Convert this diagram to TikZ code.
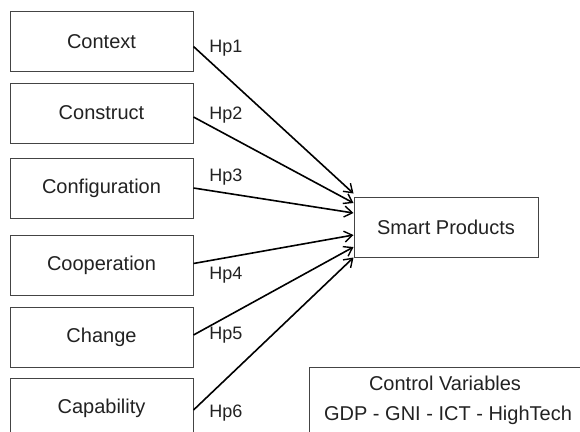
\documentclass[tikz,border=0pt]{standalone}
\usepackage{fontspec}
\setmainfont{Liberation Sans}
\usetikzlibrary{arrows.meta}
\definecolor{ink}{HTML}{222222}
\definecolor{frame}{HTML}{444444}
\tikzset{
  factor/.style={draw=frame,line width=1pt,minimum width=183pt,minimum height=60pt,text=ink,font=\fontsize{20}{24}\selectfont},
  hyp/.style={text=ink,font=\fontsize{18}{22}\selectfont},
  link/.style={draw=black,line width=1.6pt,-{Straight Barb[length=8pt,width=11pt,line width=1.4pt]}}
}

\begin{document}
\begin{tikzpicture}[x=1pt,y=-1pt]
            \useasboundingbox (0,0) rectangle (580,431);
            \clip (0,0) rectangle (580,431);
            \fill[white] (0,0) rectangle (580,431);
            \node (ctx) at (101.5,41.5) [factor] {Context};
            \node (cst) at (101.5,113) [factor] {Construct};
            \node (cfg) at (101.5,188) [factor] {Configuration};
            \node (cop) at (101.5,265.5) [factor] {Cooperation};
            \node (chg) at (101.5,337) [factor] {Change};
            \node (cap) at (101.5,408) [factor] {Capability};
            \node (sp) at (446,227) [factor,minimum width=184pt] {Smart Products};
            \node (cv) at (449.5,406) [factor,minimum width=281pt,minimum height=78pt] {};
            \node (cvt) at (445,383) [text=ink,font=\fontsize{20}{24}\selectfont] {Control Variables};
            \node (cvl) at (448,415) [text=ink,font=\fontsize{20}{24}\selectfont] {GDP - GNI - ICT - HighTech};
            \node (h1) at (226,48) [hyp] {Hp1};
            \node (h2) at (226,115) [hyp] {Hp2};
            \node (h3) at (226,177) [hyp] {Hp3};
            \node (h4) at (226,275) [hyp] {Hp4};
            \node (h5) at (226,335) [hyp] {Hp5};
            \node (h6) at (226,413) [hyp] {Hp6};
            \draw[link] ([yshift=-5pt]ctx.east) -- ([yshift=3pt]sp.north west);
            \draw[link] ([yshift=-4pt]cst.east) -- ([yshift=24pt]sp.west);
            \draw[link] (cfg.east) -- ([yshift=14pt]sp.west);
            \draw[link] ([yshift=2pt]cop.east) -- ([yshift=-8pt]sp.west);
            \draw[link] ([yshift=2pt]chg.east) -- ([yshift=-20pt]sp.west);
            \draw[link] ([yshift=-2pt]cap.east) -- (sp.south west);
        \end{tikzpicture}
\end{document}
